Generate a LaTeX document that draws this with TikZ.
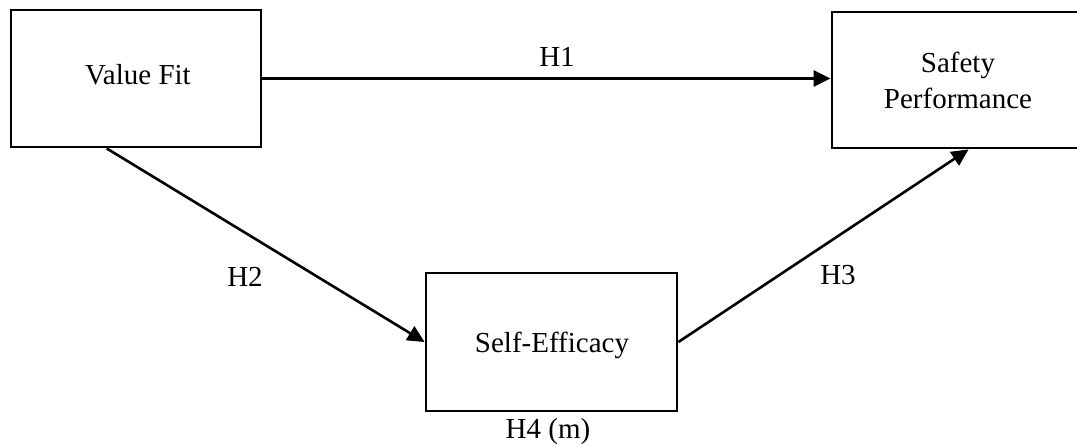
\documentclass[tikz,border=0pt]{standalone}
\usepackage{fontspec}
\setmainfont{Liberation Serif}
\usetikzlibrary{arrows.meta,calc}
\begin{document}
\begin{tikzpicture}[x=1pt,y=-1pt,
  box/.style={draw=black,line width=2.8pt,fill=white,inner sep=0pt},
  arr/.style={line width=2.6pt,-{Triangle[length=17pt,width=16pt]}},
  lab/.style={font=\fontsize{29}{36}\selectfont,inner sep=0pt}]
\fill[white] (0,0) rectangle (1077,445);
\useasboundingbox (0,0) rectangle (1077,445);
\clip (0,0) rectangle (1077,445);
\node[box,minimum width=250pt,minimum height=137pt] (vf) at (136,78.5) {};
\node[lab] (vft) at (138,75) {Value Fit};
\node[box,minimum width=258pt,minimum height=136pt] (sp) at (961,80) {};
\node[lab,align=center] (spt) at (958,80) {Safety\\Performance};
\node[box,minimum width=251pt,minimum height=138pt] (se) at (551.5,342) {};
\node[lab] (set) at (552,345) {Self-Efficacy};
\coordinate (h2s) at ($(vf.south west)!0.384!(vf.south east)$);
\coordinate (h3e) at ($(sp.south west)+(138,0)$);
\draw[arr] (vf.east) -- (sp.west |- vf.east);
\draw[arr] (h2s) -- (se.west);
\draw[arr] (se.east) -- (h3e);
\node[lab] (h1) at (557,57) {H1};
\node[lab] (h2) at (245,277) {H2};
\node[lab] (h3) at (838,275) {H3};
\node[lab] (h4) at (548,432) {H4 (m)};
\end{tikzpicture}
\end{document}
